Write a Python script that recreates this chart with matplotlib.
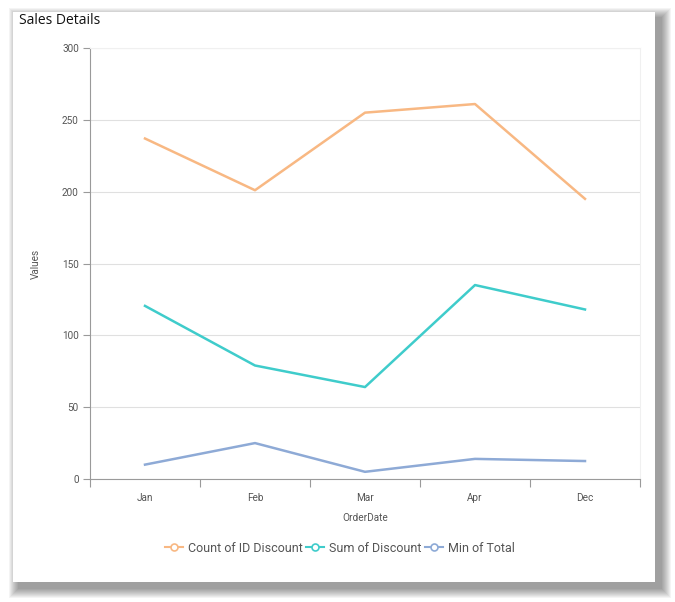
import matplotlib.pyplot as plt
from matplotlib.patches import Rectangle

months = ["Jan", "Feb", "Mar", "Apr", "Dec"]
count_id_discount = [237, 201, 255, 261, 195]
sum_discount = [120.5, 79, 64, 135, 118]
min_total = [10, 25, 5, 14, 12.5]

colors = ["#f8b883", "#3fcccb", "#8eaad6"]

plt.rcParams['font.family'] = ['Roboto', 'DejaVu Sans']

fig = plt.figure(figsize=(6.75, 6.02), dpi=100)
W, H = 675, 602

# card shadow (soft, offset to bottom-right) + card
for i in range(10, 0, -1):
    off = 6
    fig.patches.append(Rectangle(((13 + off - i) / W, (602 - 582 - off - i) / H),
                                 (642 + 2 * i) / W, (570 + 2 * i) / H,
                                 transform=fig.transFigure, facecolor="black",
                                 alpha=0.045, edgecolor="none", zorder=0))
fig.patches.append(Rectangle((13 / W, (602 - 582) / H), 642 / W, 570 / H,
                             transform=fig.transFigure, facecolor="white",
                             edgecolor="none", zorder=1))

fig.text(19 / W, 1 - 21 / H, "Sales Details", fontsize=10, color="#111111",
         family=['Open Sans', 'DejaVu Sans'], va="center", ha="left", zorder=3)

ax = fig.add_axes([90 / W, 1 - 479 / H, 550 / W, 431 / H])
ax.set_zorder(2)
ax.set_facecolor("none")

x = range(len(months))
series = [("Count of ID Discount", count_id_discount),
          ("Sum of Discount", sum_discount),
          ("Min of Total", min_total)]
for (name, vals), c in zip(series, colors):
    ax.plot(x, vals, color=c, linewidth=1.8, label=name)

ax.set_xlim(-0.5, len(months) - 0.5)
ax.set_ylim(0, 300)
ax.set_yticks(range(0, 301, 50))
ax.set_xticks([i - 0.5 for i in range(len(months) + 1)], minor=False)
ax.set_xticklabels([])
ax.set_xticks(list(x), minor=True)
ax.set_xticklabels(months, minor=True)
ax.tick_params(axis="x", which="minor", length=0, pad=10, labelsize=7.2, labelcolor="#555555")
ax.tick_params(axis="x", which="major", length=6, color="#9a9a9a", width=0.8)
ax.tick_params(axis="y", length=5, color="#9a9a9a", width=0.8, labelsize=7.2, labelcolor="#555555", pad=3)

ax.grid(axis="y", color="#e0e0e0", linewidth=0.8)
ax.set_axisbelow(True)
for s in ["top", "right"]:
    ax.spines[s].set_color("#f0f0f0")
    ax.spines[s].set_linewidth(0.8)
for s in ["left", "bottom"]:
    ax.spines[s].set_color("#9a9a9a")
    ax.spines[s].set_linewidth(0.8)

ax.set_xlabel("OrderDate", fontsize=7.2, color="#555555", labelpad=7)
ax.set_ylabel("Values", fontsize=7.2, color="#555555", labelpad=15)

handles = [plt.Line2D([], [], color=c, linewidth=1.5, marker="o", markersize=5,
                      markerfacecolor="white", markeredgecolor=c, markeredgewidth=1.2)
           for c in colors]
leg = fig.legend(handles, [n for n, _ in series], loc="center", bbox_to_anchor=(340 / W, 1 - 548 / H),
                 ncol=3, frameon=False, fontsize=9, handlelength=1.4, handletextpad=0.4,
                 columnspacing=0.3, labelcolor="#555555")
leg.set_zorder(3)

fig.savefig("out.png", dpi=100)
